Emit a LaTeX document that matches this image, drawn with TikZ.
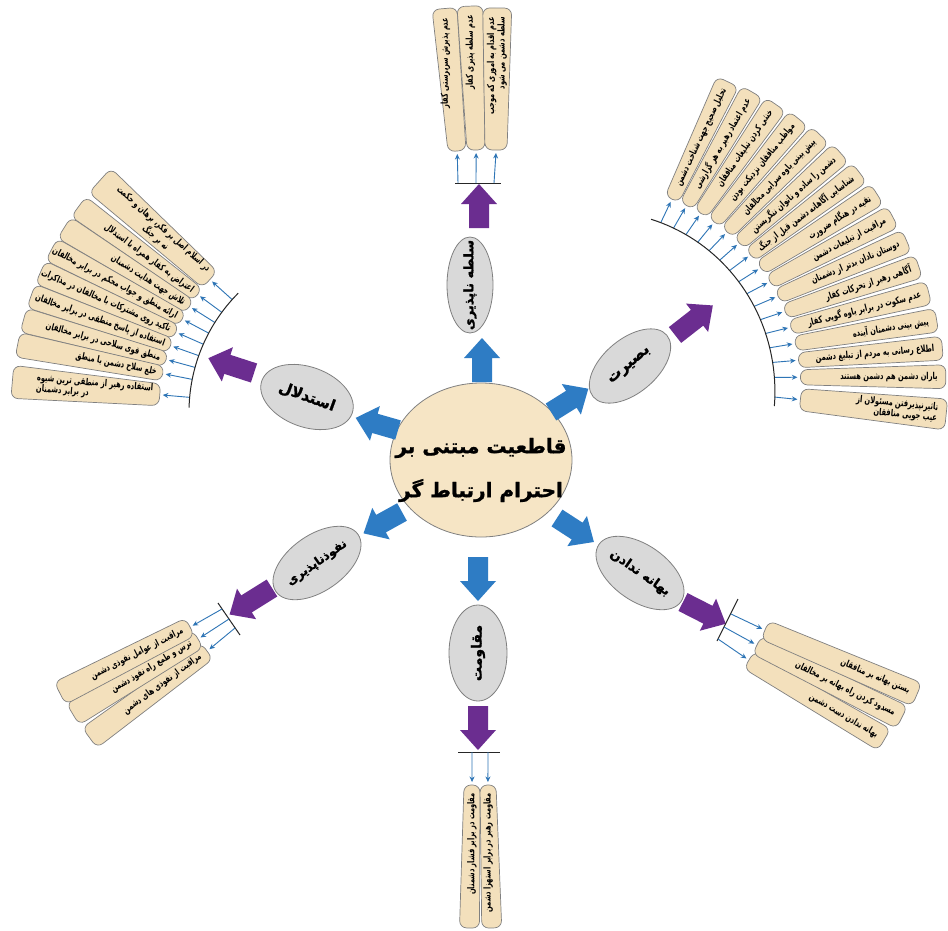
\documentclass[tikz,border=0pt]{standalone}
\usepackage{fontspec}
\usetikzlibrary{shapes.geometric,calc,arrows.meta}
\newfontfamily\fa[Script=Arabic]{DejaVu Sans}
\newfontfamily\fanar[Script=Arabic, FakeStretch=0.7]{DejaVu Sans}
\newfontfamily\faheavy[Script=Arabic, BoldFeatures={FakeBold=1.2}]{DejaVu Sans}
\TeXXeTstate=1
\definecolor{beige}{HTML}{F6E5C5}
\definecolor{stripfill}{HTML}{F3E0BC}
\definecolor{ellgray}{HTML}{D9D9D9}
\definecolor{bigblue}{HTML}{2E7CC4}
\definecolor{purp}{HTML}{6B2D90}
\definecolor{thinblue}{HTML}{2E75B6}
\definecolor{edgegray}{HTML}{808080}
\newcommand\rtl[1]{\beginR #1\endR}
\tikzset{
 stripbox/.style={draw=edgegray, fill=stripfill, line width=0.7pt, rounded corners=7pt},
 striptext/.style={font=\fanar\bfseries\fontsize{9.5}{10.5}\selectfont, inner sep=0pt},
 catell/.style={ellipse, draw=edgegray, fill=ellgray, line width=0.8pt, inner sep=0pt},
 cattext/.style={font=\faheavy\bfseries\fontsize{13}{15}\selectfont, inner sep=0pt},
 thinarr/.style={thinblue, line width=0.9pt, -{Stealth[length=5.5pt,width=5pt]}},
 barline/.style={black!85, line width=1pt},
}
% name, shift coord, angle, length, w_in, w_out, text rotation, text x, text
\newcommand\fstrip[9]{%
  \begin{scope}[shift={#2}, rotate=#3]
    \draw[stripbox] (0,-#5/2) -- (#4,-#6/2) -- (#4,#6/2) -- (0,#5/2) -- cycle;
    \coordinate (#1-in) at (-3,0);
    \node[striptext, rotate=#7, anchor=east] (#1) at (#8,0) {#9};
  \end{scope}}
% name, shift coord, angle, length, colour
\newcommand\blockarr[5]{%
  \begin{scope}[shift={#2}, rotate=#3]
    \fill[#5] (0,-10) -- ({#4-20},-10) -- ({#4-20},-18) -- (#4,0) -- ({#4-20},18) -- ({#4-20},10) -- (0,10) -- cycle;
    \coordinate (#1-t) at (0,0);
    \coordinate (#1-h) at (#4,0);
  \end{scope}}
\begin{document}
\begin{tikzpicture}[x=1pt,y=1pt]
\useasboundingbox (0,0) rectangle (948,-930);
\fill[white] (0,0) rectangle (948,-930);

% ---------- centre ----------
\node[ellipse, draw=edgegray, fill=beige, line width=0.8pt, minimum width=182pt, minimum height=154pt, inner sep=0pt] (centre) at (481,-460) {};
\node[font=\faheavy\bfseries\fontsize{20}{44}\selectfont, align=center, inner sep=0pt] (centre-t) at (481,-470) {\rtl{قاطعیت مبتنی بر}\\\rtl{احترام ارتباط گر}};

% ---------- category ellipses ----------
\node[catell, minimum width=96pt, minimum height=46pt, rotate=90] (soltah) at (470,-285) {};
\node[cattext, rotate=90] (soltah-t) at (soltah) {\rtl{سلطه ناپذیری}};
\node[catell, minimum width=96pt, minimum height=54pt, rotate=40] (basirat) at (630,-366) {};
\node[cattext, font=\faheavy\bfseries\fontsize{15}{17}\selectfont, rotate=40] (basirat-t) at (basirat) {\rtl{بصیرت}};
\node[catell, minimum width=96pt, minimum height=60pt, rotate=-20] (estedlal) at (307,-397) {};
\node[cattext, font=\faheavy\bfseries\fontsize{15}{17}\selectfont, rotate=-20] (estedlal-t) at (estedlal) {\rtl{استدلال}};
\node[catell, minimum width=100pt, minimum height=56pt, rotate=35] (nofuz) at (317,-563) {};
\node[cattext, font=\faheavy\bfseries\fontsize{12}{14}\selectfont, rotate=35] (nofuz-t) at (nofuz) {\rtl{نفوذناپذیری}};
\node[catell, minimum width=96pt, minimum height=58pt, rotate=90] (moghav) at (478,-653) {};
\node[cattext, font=\faheavy\bfseries\fontsize{14}{16}\selectfont, rotate=90] (moghav-t) at (moghav) {\rtl{مقاومت}};
\node[catell, minimum width=100pt, minimum height=56pt, rotate=-35] (bahane) at (640,-573) {};
\node[cattext, rotate=-35] (bahane-t) at (bahane) {\rtl{بهانه ندادن}};

% ---------- blue block arrows ----------
\blockarr{b1}{(482,-382)}{90}{44}{bigblue}
\blockarr{b2}{(551,-412)}{32}{44}{bigblue}
\blockarr{b3}{(398,-430)}{164}{44}{bigblue}
\blockarr{b4}{(402,-512)}{209}{44}{bigblue}
\blockarr{b5}{(478,-557)}{-90}{44}{bigblue}
\blockarr{b6}{(557,-518)}{-33}{44}{bigblue}
% ---------- purple block arrows ----------
\blockarr{p1}{(479,-228)}{90}{44}{purp}
\blockarr{p2}{(675,-335)}{38}{48}{purp}
\blockarr{p3}{(254,-373)}{162}{48}{purp}
\blockarr{p4}{(272,-588)}{212}{50}{purp}
\blockarr{p5}{(478,-706)}{-90}{44}{purp}
\blockarr{p6}{(683,-602)}{-27}{48}{purp}

% ---------- top fan ----------
\fstrip{S1}{(457,-151)}{95}{143}{18}{25}{90}{134}{\rtl{عدم پذیرش سرپرستی کفار}}
\fstrip{S2}{(476,-150)}{92.4}{144}{18}{26}{90}{135}{\rtl{عدم سلطه پذیری کفار}}
\fstrip{S3}{(496,-150)}{89.5}{142}{22}{29}{90}{133}{\begin{tabular}{@{}r@{}}\rtl{عدم اقدام به اموری که موجب}\\\rtl{سلطه دشمن می شود}\end{tabular}}
\coordinate (Tb1) at (455,-183); \coordinate (Tb2) at (501,-183);
\draw[barline] (Tb1) -- (Tb2);
\coordinate (Ta1) at (458,-183); \coordinate (Ta2) at (476,-183); \coordinate (Ta3) at (494,-183);
\draw[thinarr] (Ta1) -- (S1-in);
\draw[thinarr] (Ta2) -- (S2-in);
\draw[thinarr] (Ta3) -- (S3-in);

% ---------- right fan ----------
\coordinate (RC) at (587,-378);
\foreach \i/\a/\r/\L/\t in {
 1/64.6/198.0/130.0/{تحلیل صحیح جهت شناخت دشمن},
 2/60.0/199.1/131.1/{عدم اعتماد رهبر به هر گزارشی},
 3/55.4/200.2/132.2/{خنثی کردن تبلیغات منافقان},
 4/50.8/201.3/133.3/{مواظب منافقان نزدیکت بودن},
 5/46.2/202.4/134.4/{پیش بینی یاوه سرایی مخالفان},
 6/41.6/203.5/135.5/{دشمن را ساده و ناتوان ننگریستن},
 7/37.0/204.6/136.6/{شناسایی آگاهانه دشمن قبل از جنگ},
 8/32.4/205.7/137.7/{تقیه در هنگام ضرورت},
 9/27.8/206.8/138.8/{مراقبت از تبلیغات دشمن},
 10/23.2/207.9/139.9/{دوستان نادان بدتر از دشمنان},
 11/18.6/209.0/141.0/{آگاهی رهبر از تحرکات کفار},
 12/14.0/210.1/142.1/{عدم سکوت در برابر یاوه گویی کفار},
 13/9.4/211.2/143.2/{پیش بینی دشمنان آینده},
 14/4.8/212.3/144.3/{اطلاع رسانی به مردم از تبلیغ دشمن},
 15/0.2/213.4/145.4/{یاران دشمن هم دشمن هستند}} {
  \fstrip{R\i}{($(RC)+(\a:\r)$)}{\a}{\L}{15}{24}{\a}{\L-8}{\rtl{\t}}
  \coordinate (R\i-b) at ($(RC)+(\a:{\r-26})$);
  \draw[thinarr] (R\i-b) -- (R\i-in);
}
\fstrip{R16}{($(RC)+(-5.8:214.5)$)}{-5.8}{146.5}{22}{31}{-5.8}{138}{\begin{tabular}{@{}r@{}}\rtl{تاثیرنپذیرفتن مسئولان از}\\\rtl{عیب جویی منافقان}\end{tabular}}
\coordinate (R16-b) at ($(RC)+(-5.8:188.5)$);
\draw[thinarr] (R16-b) -- (R16-in);
\draw[barline] plot[domain=-8.5:68, samples=40, variable=\t] ({587+(172+(64.6-\t)*0.239)*cos(\t)}, {-378+(172+(64.6-\t)*0.239)*sin(\t)});

% ---------- left fan ----------
\coordinate (LC) at (357,-412);
\fstrip{L1}{($(LC)+(138:198)$)}{138}{148}{22}{33}{-42}{7}{\begin{tabular}{@{}c@{}}\rtl{در اسلام اصل بر فکر، برهان و حکمت}\\\rtl{نه بر جنگ}\end{tabular}}
\foreach \i/\a/\t in {
 2/143.6/{اعتراض به کفار همراه با استدلال},
 3/147.8/{تلاش جهت هدایت دشمنان},
 4/152.0/{ارائه منطق و جواب محکم در برابر مخالفان},
 5/156.2/{تاکید روی مشترکات با مخالفان در مذاکرات},
 6/160.4/{استفاده از پاسخ منطقی در برابر مخالفان},
 7/164.6/{منطق قوی سلاحی در برابر مخالفان},
 8/168.8/{خلع سلاح دشمن با منطق}} {
  \fstrip{L\i}{($(LC)+(\a:198)$)}{\a}{148}{15}{25}{\a-180}{6}{\rtl{\t}}
}
\fstrip{L9}{($(LC)+(175:198)$)}{175}{148}{22}{33}{-5}{7}{\begin{tabular}{@{}l@{}}\rtl{استفاده رهبر از منطقی ترین شیوه}\\\rtl{در برابر دشمنان}\end{tabular}}
\foreach \i/\a in {1/138,2/143.6,3/147.8,4/152.0,5/156.2,6/160.4,7/164.6,8/168.8,9/175} {
  \coordinate (L\i-b) at ($(LC)+(\a:168)$);
  \draw[thinarr] (L\i-b) -- (L\i-in);
}
\draw[barline] ($(LC)+(135:168)$) arc[start angle=135, end angle=178.5, radius=168];

% ---------- lower-left fan ----------
\fstrip{N3}{(207,-651)}{216.5}{146}{20}{25}{36.5}{8}{\rtl{مراقبت از نفوذی های دشمن}}
\fstrip{N2}{(198,-639)}{211}{146}{20}{25}{31}{8}{\rtl{ترس و طمع راه نفوذ دشمن}}
\fstrip{N1}{(190,-627)}{207}{146}{20}{25}{27}{8}{\rtl{مراقبت از عوامل نفوذی دشمن}}
\coordinate (Nb1) at (218,-603); \coordinate (Nb2) at (240,-635);
\draw[barline] (Nb1) -- (Nb2);
\coordinate (Na1) at (222,-609); \coordinate (Na2) at (229,-619); \coordinate (Na3) at (235,-628);
\draw[thinarr] (Na1) -- (N1-in);
\draw[thinarr] (Na2) -- (N2-in);
\draw[thinarr] (Na3) -- (N3-in);

% ---------- lower-right fan ----------
\fstrip{H3}{(749,-660)}{-30.5}{157}{20}{25}{-30.5}{149}{\rtl{بهانه ندادن دست دشمن}}
\fstrip{H2}{(757,-645)}{-26.5}{162}{20}{25}{-26.5}{154}{\rtl{مسدود کردن راه بهانه بر مخالفان}}
\fstrip{H1}{(765,-630)}{-23}{165}{20}{25}{-23}{157}{\rtl{بستن بهانه بر منافقان}}
\coordinate (Hb1) at (738,-599); \coordinate (Hb2) at (717,-641);
\draw[barline] (Hb1) -- (Hb2);
\coordinate (Ha1) at (731,-614); \coordinate (Ha2) at (724,-627); \coordinate (Ha3) at (718,-639);
\draw[thinarr] (Ha1) -- (H1-in);
\draw[thinarr] (Ha2) -- (H2-in);
\draw[thinarr] (Ha3) -- (H3-in);

% ---------- bottom fan ----------
\fstrip{M1}{(472,-785)}{-91}{143}{16}{20}{90}{8}{\rtl{مقاومت در برابر فشار دشمنان}}
\fstrip{M2}{(488,-785)}{-88.5}{143}{16}{20}{90}{8}{\rtl{مقاومت رهبر در برابر استهزا دشمن}}
\coordinate (Mb1) at (458,-752); \coordinate (Mb2) at (500,-752);
\draw[barline] (Mb1) -- (Mb2);
\coordinate (Ma1) at (472,-752); \coordinate (Ma2) at (488,-752);
\draw[thinarr] (Ma1) -- (M1-in);
\draw[thinarr] (Ma2) -- (M2-in);
\end{tikzpicture}
\end{document}
